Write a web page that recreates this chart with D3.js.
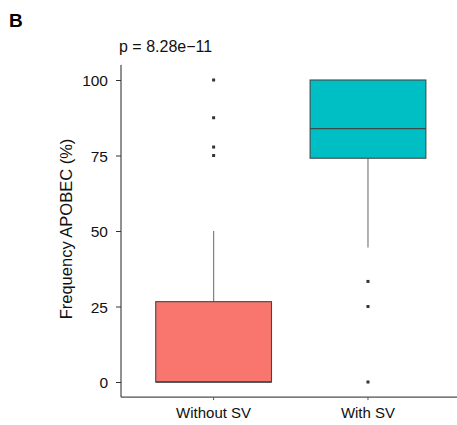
<!DOCTYPE html>
<html>
<head>
<meta charset="utf-8">
<script src="https://cdn.jsdelivr.net/npm/d3@7"></script>
<style>
  body { margin: 0; background: #fff; }
  svg { display: block; font-family: "Liberation Sans", Arial, sans-serif; }
</style>
</head>
<body>
<svg id="chart" width="457" height="425"></svg>
<script>
const categories = ["Without SV", "With SV"];
const colors = ["#F8766D", "#00BFC4"];
const q1 = [0, 74.1];
const median = [0, 83.9];
const q3 = [26.6, 100];
const whiskerLow = [0, 44.5];
const whiskerHigh = [50, 100];
const outliers = [[75, 77.8, 87.5, 100], [0, 25, 33.3]];
const yTicks = [0, 25, 50, 75, 100];
const pLabel = "p = 8.28e\u221211";

(function () {
const svg = d3.select("#chart");
const pLeft = 121, pRight = 460.6, pTop = 64.9, pBottom = 397.1;

// emulate ggplot discrete expansion (0.6 on each side)
const xPos = d3.scaleLinear().domain([0.4, 2.6]).range([pLeft, pRight]);
const unit = xPos(2) - xPos(1);
const y = d3.scaleLinear().domain([-5, 105]).range([pBottom, pTop]);

const data = categories.map((c, i) => ({
  c, i, q1: q1[i], med: median[i], q3: q3[i], lo: whiskerLow[i], hi: whiskerHigh[i], out: outliers[i], col: colors[i]
}));

const g = svg.append("g");
const bw = unit * 0.75;

data.forEach(d => {
  const cx = xPos(d.i + 1);
  g.append("line").attr("x1", cx).attr("x2", cx).attr("y1", y(d.q3)).attr("y2", y(d.hi))
    .attr("stroke", "#7f7f7f").attr("stroke-width", 1.2);
  g.append("line").attr("x1", cx).attr("x2", cx).attr("y1", y(d.q1)).attr("y2", y(d.lo))
    .attr("stroke", "#7f7f7f").attr("stroke-width", 1.2);
  g.append("rect").attr("x", cx - bw / 2).attr("y", y(d.q3)).attr("width", bw)
    .attr("height", Math.max(0, y(d.q1) - y(d.q3)))
    .attr("fill", d.col).attr("stroke", "#3d4a4a").attr("stroke-width", 1.1);
  g.append("line").attr("x1", cx - bw / 2).attr("x2", cx + bw / 2).attr("y1", y(d.med)).attr("y2", y(d.med))
    .attr("stroke", "#3d4a4a").attr("stroke-width", 1.4);
  d.out.forEach(v => {
    g.append("rect").attr("x", cx - 1.5).attr("y", y(v) - 1.5).attr("width", 3).attr("height", 3)
      .attr("fill", "#333");
  });
});

const yAxis = d3.axisLeft(y).tickValues(yTicks).tickSize(5).tickPadding(8);
const ya = svg.append("g").attr("transform", `translate(${pLeft},0)`).call(yAxis);
ya.select(".domain").attr("d", `M0,${pTop}V${pBottom}`).attr("stroke", "#222");
ya.selectAll(".tick line").attr("stroke", "#333");
ya.selectAll(".tick text").attr("font-size", 15.5).attr("fill", "#111")
  .attr("font-family", "Liberation Sans, Arial, sans-serif").attr("dy", "0.36em");

const xa = svg.append("g").attr("transform", `translate(0,${pBottom})`);
xa.append("line").attr("x1", pLeft).attr("x2", pRight).attr("y1", 0).attr("y2", 0).attr("stroke", "#222");
categories.forEach((c, i) => {
  const cx = xPos(i + 1);
  xa.append("line").attr("x1", cx).attr("x2", cx).attr("y1", 0).attr("y2", 3).attr("stroke", "#555");
  xa.append("text").attr("x", cx).attr("y", 20.5).attr("text-anchor", "middle")
    .attr("font-size", 15).attr("fill", "#111").text(c);
});

svg.append("text").attr("transform", `translate(72,229) rotate(-90)`).attr("text-anchor", "middle")
  .attr("font-size", 16.5).attr("fill", "#111").text("Frequency APOBEC (%)");

svg.append("text").attr("x", 119).attr("y", 51.5).attr("font-size", 16).attr("fill", "#111").text(pLabel);

svg.append("text").attr("x", 9).attr("y", 27).attr("font-size", 19).attr("font-weight", "bold").attr("fill", "#000").text("B");
})();
</script>
</body>
</html>
